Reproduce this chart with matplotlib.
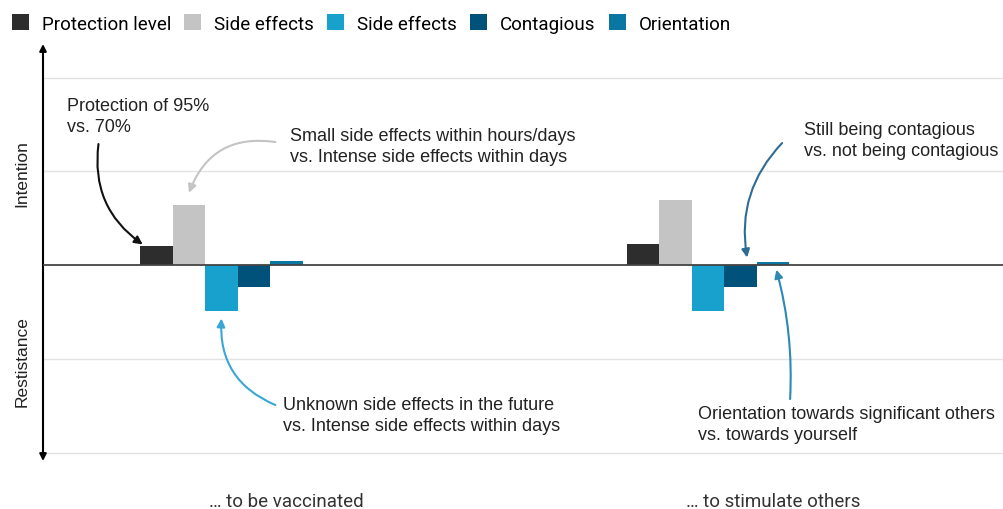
import numpy as np
import matplotlib.pyplot as plt
from matplotlib.patches import Patch

# Data
groups = ['… to be vaccinated', '… to stimulate others']
series = ['Protection level', 'Side effects', 'Side effects', 'Contagious', 'Orientation']
colors = ['#2d2d2d', '#c4c4c4', '#18a1cd', '#00527a', '#0a77a3']
values = [
    [0.040, 0.045],    # protection level
    [0.128, 0.138],    # side effects (small vs intense)
    [-0.098, -0.098],  # side effects (unknown vs intense)
    [-0.047, -0.047],  # contagious
    [0.008, 0.007],    # orientation
]

W, H = 1004, 510
fig = plt.figure(figsize=(W / 100, H / 100), dpi=100)
ax = fig.add_axes([43 / W, 48 / H, 961 / W, 417 / H])

x = np.arange(len(groups))
w = 0.0667
for i, (name, col, vals) in enumerate(zip(series, colors, values)):
    ax.bar(x + (i - 4) * w, vals, width=w, color=col, edgecolor='none', zorder=3)

ax.set_xlim(-0.5, (W - 286) / 487)
ax.set_ylim(-0.418, 0.4715)

# grid and zero line
for g in [-0.4, -0.2, 0.2, 0.4]:
    ax.axhline(g, color='#e3e3e3', lw=1, zorder=1)
ax.axhline(0, color='#444444', lw=1.3, zorder=4)

for s in ax.spines.values():
    s.set_visible(False)
ax.set_yticks([])
ax.set_xticks(x)
ax.set_xticklabels(groups, family=['Roboto', 'DejaVu Sans'], fontsize=13.5, color='#333333')
ax.tick_params(axis='x', length=0, pad=22)

# vertical double arrow
ax.annotate('', xy=(0, 1), xytext=(0, 0), xycoords='axes fraction',
            arrowprops=dict(arrowstyle='<|-|>', color='black', lw=1.5,
                            shrinkA=0, shrinkB=0, mutation_scale=10))

fig.text(22 / W, 1 - 174 / H, 'Intention', rotation=90, ha='center', va='center',
         family='Liberation Sans', fontsize=12.5, color='#222222')
fig.text(22 / W, 1 - 362 / H, 'Restistance', rotation=90, ha='center', va='center',
         family='Liberation Sans', fontsize=12.5, color='#222222')


def px(xp, yp):
    return (xp - 286) / 487, (266 - yp) * 0.2 / 93.75


txt = dict(ha='left', va='top', family='Liberation Sans', fontsize=13,
           color='#222222', linespacing=1.27)


def arrow(target, start, col, rad):
    ax.annotate('', xy=target, xytext=px(*start),
                arrowprops=dict(arrowstyle='-|>', color=col, lw=1.5, mutation_scale=12,
                                shrinkA=0, shrinkB=0,
                                connectionstyle=f'arc3,rad={rad}'))


ax.text(*px(67, 98), 'Protection of 95%\nvs. 70%', **txt)
arrow((0 - 4 * w - w / 2 + 0.005, values[0][0] + 0.004), (98, 145), '#111111', 0.3)

ax.text(*px(290, 128), 'Small side effects within hours/days\nvs. Intense side effects within days', **txt)
arrow((0 - 3 * w, values[1][0] + 0.026), (275, 143), '#c4c4c4', 0.4)

ax.text(*px(804, 122), 'Still being contagious\nvs. not being contagious', **txt)
arrow((1 - 1 * w + w * 0.2, 0.016), (782, 144), '#2f6b94', 0.25)

ax.text(*px(283, 397), 'Unknown side effects in the future\nvs. Intense side effects within days', **txt)
arrow((0 - 2 * w, values[2][0] - 0.016), (275, 406), '#3aa6d6', -0.35)

ax.text(*px(698, 406), 'Orientation towards significant others\nvs. towards yourself', **txt)
arrow((1 + 0.1 * w, values[4][1] - 0.017), (790, 400), '#2c88b5', 0.08)

# legend
handles = [Patch(facecolor=c, edgecolor='none') for c in colors]
fig.legend(handles, series, loc='upper left', bbox_to_anchor=(-0.003, 1.0), ncol=5,
           frameon=False, prop={'family': 'Roboto', 'size': 13.5},
           handlelength=0.9, handleheight=0.95, handletextpad=0.7,
           columnspacing=0.7, borderaxespad=0.5, borderpad=0.3)

fig.savefig('out.png', dpi=100)
